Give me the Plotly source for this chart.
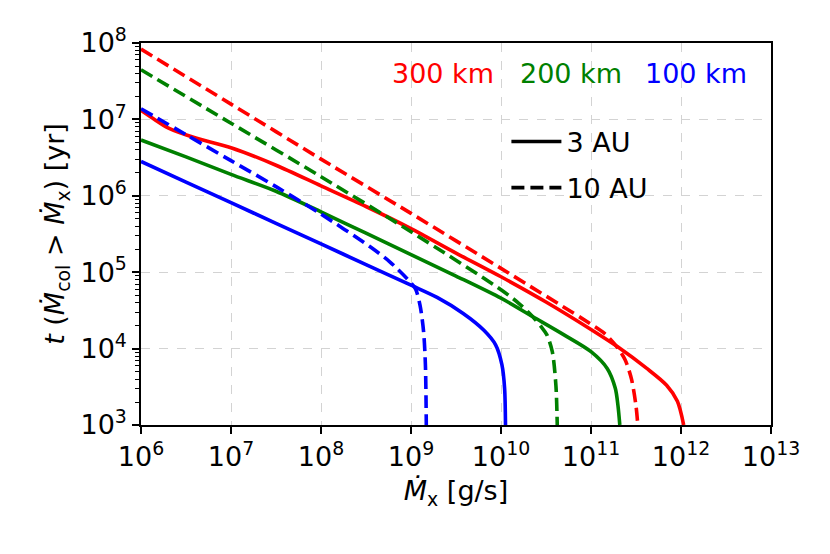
import plotly.graph_objs as go

# valores (log10 de Mx en g/s, log10 de t en yr)
rojo_3au_lx = [6.0, 6.15, 6.3, 6.6, 7.0, 7.5, 8.0, 8.5, 9.0, 9.5, 10.0, 10.5, 11.0, 11.3, 11.62, 11.84, 11.96, 12.03]
rojo_3au_ly = [7.12, 7.0, 6.89, 6.76, 6.63, 6.4, 6.13, 5.86, 5.57, 5.25, 4.94, 4.61, 4.25, 4.02, 3.74, 3.52, 3.31, 3.0]

rojo_10au_lx = [6.0, 7.0, 8.0, 9.0, 10.0, 11.0, 11.15, 11.29, 11.38, 11.45, 11.5, 11.52]
rojo_10au_ly = [7.92, 7.2, 6.48, 5.77, 5.05, 4.32, 4.2, 4.02, 3.85, 3.6, 3.25, 3.0]

verde_3au_lx = [6.0, 6.5, 7.0, 7.5, 8.0, 8.5, 9.0, 9.5, 10.0, 10.35, 10.7, 11.0, 11.18, 11.27, 11.3, 11.32]
verde_3au_ly = [6.73, 6.51, 6.28, 6.06, 5.79, 5.51, 5.23, 4.95, 4.66, 4.42, 4.18, 3.96, 3.74, 3.48, 3.25, 3.0]

verde_10au_lx = [6.0, 7.0, 8.0, 9.0, 10.0, 10.2, 10.35, 10.45, 10.51, 10.57, 10.61, 10.625]
verde_10au_ly = [7.65, 6.95, 6.25, 5.53, 4.77, 4.59, 4.42, 4.28, 4.18, 3.96, 3.52, 3.0]

azul_3au_lx = [6.0, 6.5, 7.0, 7.5, 8.0, 8.5, 9.0, 9.29, 9.58, 9.81, 9.94, 10.01, 10.04, 10.05]
azul_3au_ly = [6.45, 6.18, 5.91, 5.64, 5.37, 5.1, 4.83, 4.67, 4.46, 4.24, 4.05, 3.79, 3.48, 3.0]

azul_10au_lx = [6.0, 6.5, 7.0, 7.5, 8.0, 8.55, 8.77, 8.96, 9.05, 9.1, 9.14, 9.16, 9.17]
azul_10au_ly = [7.14, 6.8, 6.46, 6.12, 5.76, 5.33, 5.13, 4.91, 4.78, 4.57, 4.22, 3.79, 3.0]

etiquetas = ["300 km", "200 km", "100 km"]
colores = ["red", "green", "blue"]

xticks_exp = [6, 7, 8, 9, 10, 11, 12, 13]
yticks_exp = [3, 4, 5, 6, 7, 8]

fuente = "DejaVu Sans"
guion = "13px,6px"
tam = 27


def pot(lista):
    return [10 ** v for v in lista]


curvas = [
    (rojo_3au_lx, rojo_3au_ly, "red", "solid"),
    (rojo_10au_lx, rojo_10au_ly, "red", guion),
    (verde_3au_lx, verde_3au_ly, "green", "solid"),
    (verde_10au_lx, verde_10au_ly, "green", guion),
    (azul_3au_lx, azul_3au_ly, "blue", "solid"),
    (azul_10au_lx, azul_10au_ly, "blue", guion),
]

data = []
for lx, ly, c, d in curvas:
    data.append(go.Scatter(x=pot(lx), y=pot(ly), mode="lines",
                           line=dict(color=c, width=3.6, dash=d, shape="spline", smoothing=0.8),
                           showlegend=False))

# trazas vacias solo para la leyenda
data.append(go.Scatter(x=[None], y=[None], mode="lines", name="3 AU", legendgroup="a",
                       line=dict(color="black", width=3.6)))
data.append(go.Scatter(x=[None], y=[None], mode="lines", name="10 AU", legendgroup="b",
                       line=dict(color="black", width=3.6, dash=guion)))

# ticks menores del eje y (2..9 en cada decada)
minor_y = [m * 10 ** e for e in yticks_exp[:-1] for m in range(2, 10)]

eje = dict(type="log", showline=True, linecolor="black", linewidth=1.5, mirror=True,
           ticks="outside", ticklen=7, tickwidth=1.5, tickcolor="black",
           showgrid=True, gridcolor="#d3d3d3", griddash="dash", gridwidth=1,
           zeroline=False, tickfont=dict(size=tam, color="black", family=fuente))

layout = go.Layout(
    width=830, height=554,
    margin=dict(l=133, r=67, t=35, b=137),
    paper_bgcolor="white", plot_bgcolor="white",
    font=dict(family=fuente, color="black"),
    xaxis=dict(eje, range=[6, 13],
               tickvals=[10 ** e for e in xticks_exp],
               ticktext=["10<sup>%d</sup>" % e for e in xticks_exp],
               title=dict(text="<i>Ṁ</i><sub>x</sub> [g/s]", font=dict(size=tam), standoff=10)),
    yaxis=dict(eje, range=[3, 8],
               tickvals=[10 ** e for e in yticks_exp],
               ticktext=["10<sup>%d</sup>" % e for e in yticks_exp],
               minor=dict(tickvals=minor_y, ticks="outside", ticklen=4, tickwidth=1,
                          tickcolor="black", showgrid=False),
               title=dict(text="<i>t</i> (<i>Ṁ</i><sub>col</sub> > <i>Ṁ</i><sub>x</sub>) [yr]",
                          font=dict(size=tam), standoff=8)),
    legend=dict(x=0.58, y=0.805, xanchor="left", yanchor="top", itemwidth=50,
                tracegroupgap=8, bgcolor="rgba(0,0,0,0)",
                font=dict(size=tam, color="black")),
    annotations=[dict(text=t, x=xp, y=0.921, xref="paper", yref="paper",
                      xanchor="center", yanchor="middle",
                      showarrow=False, font=dict(size=tam, color=c))
                 for t, c, xp in zip(etiquetas, colores, [0.48, 0.682, 0.881])],
)

fig = go.Figure(data=data, layout=layout)
fig.write_html("out.html")
